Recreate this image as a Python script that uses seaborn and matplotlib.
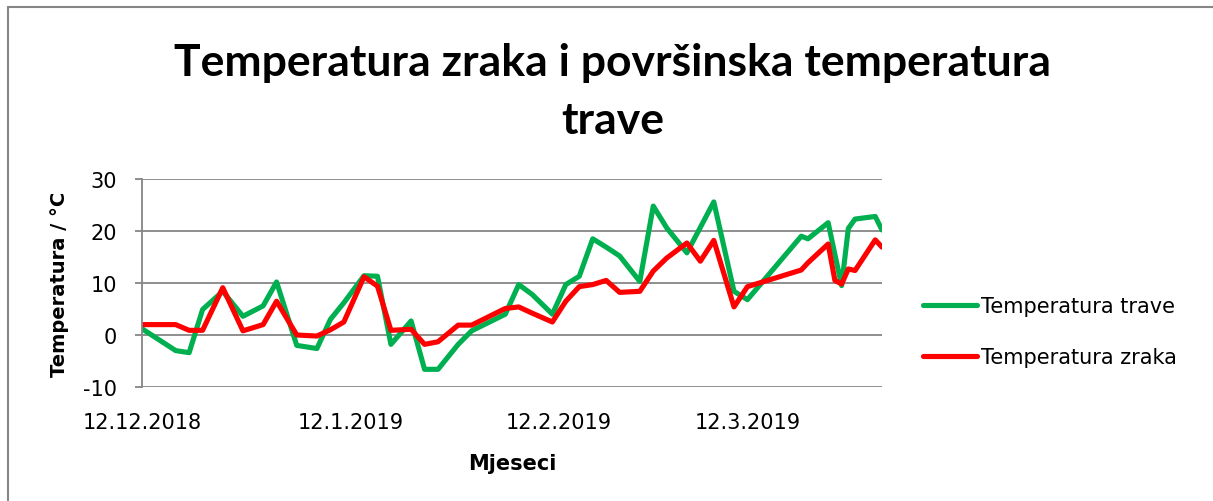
import pandas as pd
import matplotlib.pyplot as plt
import seaborn as sns

sns.set_theme(style="white")
plt.rcParams['font.family'] = ['DejaVu Sans']
plt.rcParams['axes.unicode_minus'] = False
plt.rcParams['text.color'] = 'black'
plt.rcParams['axes.labelcolor'] = 'black'

# mjerenja - dani od 12.12.2018.
start = pd.Timestamp("2018-12-12")
day_offsets = [0, 5, 7, 9, 12, 15, 18, 20, 23, 26, 28, 30, 33, 35, 37, 40, 42, 44,
               47, 49, 54, 56, 58, 61, 63, 65, 67, 69, 71, 74, 76, 78, 81, 83, 85,
               88, 90, 98, 99, 102, 103, 104, 105, 106, 109, 110]
temp_trave = [1.2, -3.0, -3.4, 4.9, 8.4, 3.6, 5.6, 10.2, -2.0, -2.6, 3.0, 6.2, 11.4,
              11.3, -1.8, 2.7, -6.6, -6.6, -1.8, 0.8, 4.0, 9.7, 7.8, 4.0, 9.7, 11.3,
              18.5, 16.9, 15.2, 10.3, 24.8, 20.6, 15.8, 20.7, 25.6, 8.4, 6.8, 19.0,
              18.5, 21.6, 15.5, 9.5, 20.5, 22.3, 22.8, 20.2]
temp_zraka = [2.0, 2.0, 0.9, 0.9, 9.1, 0.8, 2.0, 6.5, 0.0, -0.2, 1.0, 2.5, 11.2,
              9.4, 0.9, 1.1, -1.8, -1.3, 1.9, 1.9, 5.1, 5.4, 4.2, 2.5, 6.5, 9.3,
              9.7, 10.5, 8.2, 8.4, 12.3, 14.8, 17.7, 14.2, 18.2, 5.4, 9.3, 12.5,
              13.9, 17.5, 10.5, 9.8, 12.7, 12.4, 18.3, 16.9]
series_names = ["Temperatura trave", "Temperatura zraka"]
series_colors = ["#00B050", "#FF0000"]

tick_dates = ["2018-12-12", "2019-01-12", "2019-02-12", "2019-03-12"]
tick_labels = ["12.12.2018", "12.1.2019", "12.2.2019", "12.3.2019"]
y_ticks = [-10, 0, 10, 20, 30]

dates = start + pd.to_timedelta(day_offsets, unit="D")
df = pd.concat([
    pd.DataFrame({"datum": dates, "temp": temp_trave, "serija": series_names[0]}),
    pd.DataFrame({"datum": dates, "temp": temp_zraka, "serija": series_names[1]}),
])

fig = plt.figure(figsize=(12.13, 5.02), dpi=100)
ax = fig.add_axes([0.1171, 0.2271, 0.61, 0.4143])

sns.lineplot(data=df, x="datum", y="temp", hue="serija", hue_order=series_names,
             palette=series_colors, linewidth=3.7, ax=ax, legend=False)

ax.set_xlim(start, start + pd.Timedelta(days=110))
ax.set_ylim(-10, 30)
ax.set_yticks(y_ticks)
ax.set_xticks(pd.to_datetime(tick_dates))
ax.set_xticklabels(tick_labels)

grid_c = "#868686"
ax.grid(axis="y", color=grid_c, linewidth=1.3)
ax.set_axisbelow(True)
for s in ["top", "right", "bottom"]:
    ax.spines[s].set_visible(False)
ax.spines["left"].set_color(grid_c)
ax.spines["left"].set_linewidth(1.3)
ax.tick_params(axis="y", length=5, width=1.3, color=grid_c, labelsize=15, pad=13,
               labelcolor="black", left=True)
ax.tick_params(axis="x", length=0, labelsize=15, pad=18, labelcolor="black")

ax.set_xlabel("Mjeseci", fontsize=15, fontweight="bold", labelpad=15)
ax.set_ylabel("Temperatura / °C", fontsize=14, fontweight="bold", labelpad=10)

handles = [plt.Line2D([], [], color=c, linewidth=3.7, solid_capstyle="round")
           for c in series_colors]
ax.legend(handles, series_names, loc="center left", bbox_to_anchor=(1.03, 0.266),
          frameon=False, fontsize=15, handlelength=2.6, handletextpad=0.2,
          labelspacing=1.5)

fig.text(0.505, 1 - 92 / 502, "Temperatura zraka i površinska temperatura\ntrave",
         ha="center", va="center", fontsize=32, fontweight="bold",
         family=["Lato", "DejaVu Sans"], linespacing=1.56)

# okvir grafikona (gore i lijevo)
fig.add_artist(plt.Line2D([8 / 1213, 1], [1 - 8 / 502, 1 - 8 / 502], color=grid_c,
                          linewidth=1.5, transform=fig.transFigure))
fig.add_artist(plt.Line2D([8 / 1213, 8 / 1213], [0, 1 - 8 / 502], color=grid_c,
                          linewidth=1.5, transform=fig.transFigure))

fig.savefig("out.png", dpi=100)
